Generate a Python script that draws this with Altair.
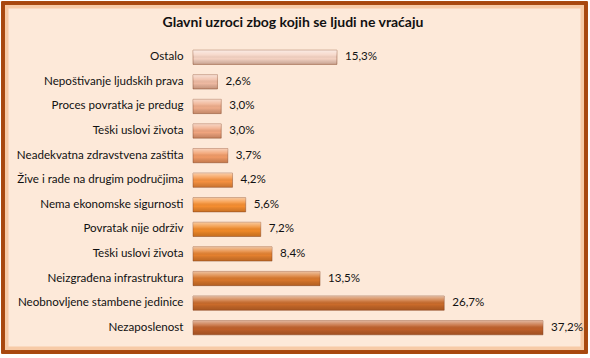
import json
import altair as alt
import pandas as pd

categories = [
    "Ostalo",
    "Nepoštivanje ljudskih prava",
    "Proces povratka je predug",
    "Teški uslovi života",
    "Neadekvatna zdravstvena zaštita",
    "Žive i rade na drugim područjima",
    "Nema ekonomske sigurnosti",
    "Povratak nije održiv",
    "Teški uslovi života",
    "Neizgrađena infrastruktura",
    "Neobnovljene stambene jedinice",
    "Nezaposlenost",
]
values = [15.3, 2.6, 3.0, 3.0, 3.7, 4.2, 5.6, 7.2, 8.4, 13.5, 26.7, 37.2]
labels = ["15,3%", "2,6%", "3,0%", "3,0%", "3,7%", "4,2%", "5,6%", "7,2%", "8,4%", "13,5%", "26,7%", "37,2%"]
bar_colors = ["#f5d2c2", "#efbaa2", "#efac8a", "#efa47e", "#f19a66", "#f59140", "#f68e30",
              "#f08928", "#e4802e", "#d9772b", "#c96a2a", "#c0602a"]

ranks = list(range(len(categories)))
df = pd.DataFrame({"rank": ranks, "cat": categories, "value": values, "label": labels})

W, H = 350, 295
PL, PT = 193, 45
label_expr = json.dumps(categories, ensure_ascii=False) + "[datum.value]"

ysc = alt.Scale(domain=ranks, paddingInner=0.42, paddingOuter=0.21)
xsc = alt.Scale(domain=[0, 37.2], nice=False, zero=True)

base = alt.Chart(df)

frame_glow = base.mark_rect(fill="#fde9d9", stroke="#f7caa6", strokeWidth=7).encode(
    x=alt.value(3 - PL + 2), x2=alt.value(586 - PL - 2),
    y=alt.value(3 - PT + 2), y2=alt.value(352 - PT - 2),
)
frame = base.mark_rect(fill=None, stroke="#a8470f", strokeWidth=2.5).encode(
    x=alt.value(3 - PL), x2=alt.value(586 - PL),
    y=alt.value(3 - PT), y2=alt.value(352 - PT),
)

bars = base.mark_bar(stroke="#8a4a2a", strokeWidth=0.8, strokeOpacity=0.6).encode(
    y=alt.Y("rank:O", scale=ysc, axis=alt.Axis(
        title=None, labelExpr=label_expr, ticks=False, domain=False, zindex=2,
        labelPadding=10, labelFont="Lato", labelFontSize=11.6, labelColor="#111111",
        labelLimit=250)),
    x=alt.X("value:Q", scale=xsc, axis=None),
    color=alt.Color("rank:O", scale=alt.Scale(domain=ranks, range=bar_colors), legend=None),
)

gloss = base.mark_bar(
    color=alt.Gradient(
        gradient="linear", x1=0, x2=0, y1=0, y2=1,
        stops=[
            alt.GradientStop(color="rgba(255,255,255,0.55)", offset=0),
            alt.GradientStop(color="rgba(255,255,255,0.15)", offset=0.35),
            alt.GradientStop(color="rgba(0,0,0,0)", offset=0.6),
            alt.GradientStop(color="rgba(80,30,0,0.25)", offset=1),
        ],
    )
).encode(
    y=alt.Y("rank:O", scale=ysc),
    x=alt.X("value:Q", scale=xsc),
)

text = base.mark_text(align="left", baseline="middle", dx=8, font="Lato", fontSize=11.6,
                      color="#111111").encode(
    y=alt.Y("rank:O", scale=ysc),
    x=alt.X("value:Q", scale=xsc),
    text="label:N",
)

chart = alt.layer(frame_glow, frame, bars, gloss, text).properties(
    width=W, height=H,
    title=alt.TitleParams(
        "Glavni uzroci zbog kojih se ljudi ne vraćaju",
        font="Lato", fontSize=14, fontWeight="bold", color="#111111",
        anchor="middle", dx=-75, offset=-28, frame="group", zindex=2,
    ),
    autosize=alt.AutoSizeParams(type="none"),
    padding={"left": PL, "top": PT, "right": 590 - PL - W, "bottom": 358 - PT - H},
).configure_view(stroke=None).configure(background="white")

chart.save("out.html", embed_options={"renderer": "svg", "actions": False})
